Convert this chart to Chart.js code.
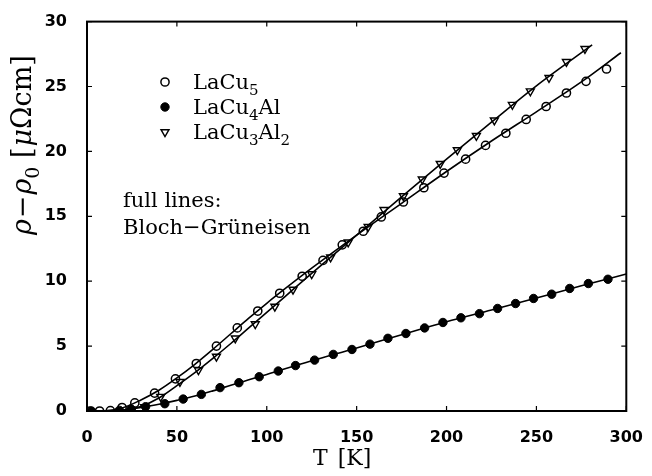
<!DOCTYPE html>
<html>
<head>
<meta charset="utf-8">
<script src="https://cdn.jsdelivr.net/npm/chart.js@4"></script>
<style>
  body { margin: 0; background: #fff; }
  canvas { display: block; }
</style>
</head>
<body>
<canvas id="rho" width="652" height="476"></canvas>
<script>
// measured points, T in K, rho - rho0 in micro-ohm cm
var tLaCu5   = [1.5, 7, 13, 19.5, 26.6, 37.6, 49.2, 60.8, 72, 83.6, 95, 107.2, 119.7, 131.3, 142, 153.7, 163.7, 176, 187.4, 198.6, 210.6, 221.7, 233, 244.3, 255.4, 266.7, 277.6, 289];
var rLaCu5   = [0, 0, 0.03, 0.27, 0.62, 1.38, 2.48, 3.66, 5.0, 6.4, 7.7, 9.07, 10.38, 11.6, 12.8, 13.85, 14.95, 16.1, 17.2, 18.33, 19.4, 20.46, 21.4, 22.46, 23.46, 24.5, 25.4, 26.35];

var tLaCu4Al = [2.5, 18, 24.5, 32.6, 43.3, 53.5, 63.6, 74, 84.5, 95.8, 106.4, 116, 126.6, 137, 147.4, 157.4, 167.4, 177.4, 187.8, 198, 208, 218.3, 228.4, 238.4, 248.4, 258.5, 268.5, 278.9, 289.8];
var rLaCu4Al = [0, 0.05, 0.15, 0.33, 0.56, 0.92, 1.28, 1.8, 2.18, 2.64, 3.08, 3.5, 3.92, 4.36, 4.74, 5.15, 5.6, 5.97, 6.4, 6.82, 7.18, 7.5, 7.9, 8.28, 8.67, 9.0, 9.44, 9.82, 10.15];

var tLaCu3Al2 = [24.8, 32, 41, 51.7, 62, 72, 82.5, 93.6, 104.5, 114.6, 125, 135.5, 145.3, 156.4, 165.2, 176, 186.5, 196.5, 206, 216.6, 226.6, 236.6, 246.6, 257, 266.7, 277];
var rLaCu3Al2 = [0, 0.3, 1.1, 2.25, 3.15, 4.2, 5.6, 6.7, 8.05, 9.36, 10.55, 11.85, 13.0, 14.2, 15.5, 16.56, 17.85, 19.05, 20.1, 21.2, 22.4, 23.6, 24.64, 25.67, 26.9, 27.9];

// Bloch-Grueneisen curves
var tFit5 = [0, 10, 20, 30, 40, 50, 60, 70, 80, 90, 100, 110, 125, 150, 175, 200, 225, 250, 275, 297];
var rFit5 = [0, 0.02, 0.25, 0.85, 1.6, 2.55, 3.6, 4.75, 5.95, 7.15, 8.3, 9.4, 11.0, 13.55, 16.0, 18.45, 20.8, 23.05, 25.35, 27.6];
var tFit4 = [0, 10, 20, 30, 40, 50, 60, 70, 80, 90, 100, 125, 150, 175, 200, 225, 250, 275, 300];
var rFit4 = [0, 0.01, 0.08, 0.28, 0.52, 0.82, 1.15, 1.55, 1.98, 2.4, 2.82, 3.87, 4.85, 5.88, 6.88, 7.78, 8.7, 9.65, 10.55];
var tFit3 = [0, 10, 20, 30, 40, 50, 60, 70, 80, 90, 100, 110, 125, 150, 175, 200, 225, 250, 281];
var rFit3 = [0, 0, 0.05, 0.35, 1.0, 1.95, 2.95, 4.05, 5.2, 6.4, 7.6, 8.8, 10.6, 13.55, 16.5, 19.4, 22.25, 25.05, 28.2];

var xTicks = [0, 50, 100, 150, 200, 250, 300];
var yTicks = [0, 5, 10, 15, 20, 25, 30];

var SERIF = '"DejaVu Serif", serif';
var TICKFONT = { family: '"DejaVu Sans", sans-serif', size: 16, weight: 'bold' };

function pts(xs, ys) {
  return xs.map(function (v, i) { return { x: v, y: ys[i] }; });
}

function fitLine(xs, ys) {
  return {
    data: pts(xs, ys), showLine: true, pointRadius: 0,
    borderColor: '#000', borderWidth: 1.6, cubicInterpolationMode: 'monotone'
  };
}

var NONE = 'rgba(0,0,0,0)';
var styleOpen = { pointStyle: 'circle', pointRadius: 4.1, backgroundColor: NONE, borderColor: '#000', pointBorderWidth: 1.5 };
var styleFull = { pointStyle: 'circle', pointRadius: 4.2, backgroundColor: '#000', borderColor: '#000', pointBorderWidth: 1 };
var styleTri  = { pointStyle: 'triangle', pointRadius: 4.6, pointRotation: 180, backgroundColor: NONE, borderColor: '#000', pointBorderWidth: 1.4 };

function marks(xs, ys, st) {
  return Object.assign({ data: pts(xs, ys), showLine: false }, st);
}

// draws a list of text runs left to right; sub runs are smaller and dropped
function runs(ctx, x, y, list, size) {
  list.forEach(function (r) {
    var s = r.sub ? Math.round(size * 0.72) : size;
    ctx.font = (r.italic ? 'italic ' : '') + s + 'px ' + SERIF;
    ctx.fillText(r.t, x, y + (r.sub ? size * 0.3 : 0));
    x += ctx.measureText(r.t).width + (r.gap || 0);
  });
  return x;
}

var legendRows = [
  { st: styleOpen, text: [{ t: 'LaCu' }, { t: '5', sub: true }] },
  { st: styleFull, text: [{ t: 'LaCu' }, { t: '4', sub: true }, { t: 'Al' }] },
  { st: styleTri,  text: [{ t: 'LaCu' }, { t: '3', sub: true }, { t: 'Al' }, { t: '2', sub: true }] }
];

var frame = {
  id: 'frame',
  afterDraw: function (chart) {
    var ctx = chart.ctx, a = chart.chartArea;
    var sx = chart.scales.x, sy = chart.scales.y;
    ctx.save();
    ctx.strokeStyle = '#000';
    ctx.lineWidth = 2;
    ctx.strokeRect(a.left, a.top, a.right - a.left, a.bottom - a.top);

    // inward ticks on every side
    ctx.lineWidth = 1.2;
    ctx.beginPath();
    xTicks.forEach(function (v) {
      var p = sx.getPixelForValue(v);
      ctx.moveTo(p, a.bottom); ctx.lineTo(p, a.bottom - 5);
      ctx.moveTo(p, a.top); ctx.lineTo(p, a.top + 5);
    });
    yTicks.forEach(function (v) {
      var p = sy.getPixelForValue(v);
      ctx.moveTo(a.left, p); ctx.lineTo(a.left + 5, p);
      ctx.moveTo(a.right, p); ctx.lineTo(a.right - 5, p);
    });
    ctx.stroke();

    ctx.textBaseline = 'alphabetic';
    ctx.textAlign = 'left';

    // legend
    legendRows.forEach(function (row, i) {
      var my = 82 + i * 25;
      ctx.fillStyle = row.st.backgroundColor;
      ctx.strokeStyle = '#000';
      ctx.lineWidth = row.st.pointBorderWidth;
      Chart.helpers.drawPoint(ctx, {
        pointStyle: row.st.pointStyle, radius: row.st.pointRadius,
        rotation: row.st.pointRotation || 0, borderWidth: row.st.pointBorderWidth
      }, 165, my);
      ctx.fillStyle = '#000';
      runs(ctx, 193, my + 7, row.text, 21);
    });

    runs(ctx, 123, 207, [{ t: 'full lines:' }], 21);
    runs(ctx, 123, 234, [{ t: 'Bloch\u2212Gr\u00fcneisen' }], 21);

    // axis titles
    runs(ctx, 313, 465, [{ t: 'T', gap: 3 }, { t: ' [K]' }], 22);

    ctx.translate(31, 235);
    ctx.rotate(-Math.PI / 2);
    runs(ctx, 0, 0, [
      { t: '\u03c1', italic: true, gap: 1 }, { t: '\u2212', gap: 1 }, { t: '\u03c1', italic: true },
      { t: '0', sub: true }, { t: ' [', gap: 1 }, { t: '\u03bc', italic: true }, { t: '\u03a9cm]' }
    ], 27);
    ctx.restore();
  }
};

new Chart('rho', {
  type: 'scatter',
  data: {
    datasets: [
      fitLine(tFit5, rFit5),
      fitLine(tFit4, rFit4),
      fitLine(tFit3, rFit3),
      marks(tLaCu5, rLaCu5, styleOpen),
      marks(tLaCu4Al, rLaCu4Al, styleFull),
      marks(tLaCu3Al2, rLaCu3Al2, styleTri)
    ]
  },
  options: {
    responsive: false,
    animation: false,
    layout: { padding: { left: 0, right: 16, top: 21, bottom: 0 } },
    plugins: { legend: { display: false }, tooltip: { enabled: false } },
    scales: {
      x: {
        type: 'linear', min: 0, max: 300,
        grid: { display: false }, border: { display: false },
        afterBuildTicks: function (s) { s.ticks = xTicks.map(function (v) { return { value: v }; }); },
        afterFit: function (s) { s.height = 65; },
        ticks: { color: '#000', font: TICKFONT, padding: 9, maxRotation: 0 }
      },
      y: {
        type: 'linear', min: 0, max: 30,
        grid: { display: false }, border: { display: false },
        afterBuildTicks: function (s) { s.ticks = yTicks.map(function (v) { return { value: v }; }); },
        afterFit: function (s) { s.width = 87; },
        ticks: { color: '#000', font: TICKFONT, padding: 12 }
      }
    }
  },
  plugins: [frame]
});
</script>
</body>
</html>
